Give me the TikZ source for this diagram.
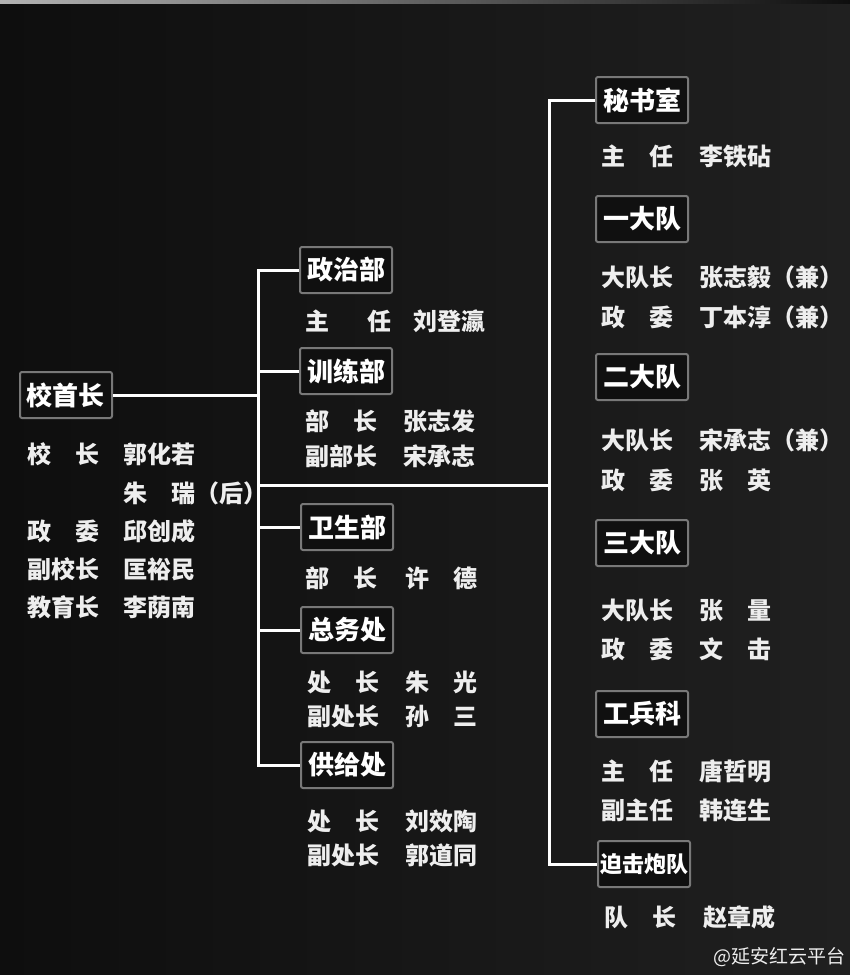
\documentclass[tikz,border=0pt]{standalone}
\usepackage{fontspec}
\newfontfamily\cjk{Noto Sans CJK SC}
\usepackage{tikz}
\usetikzlibrary{positioning}
\definecolor{boardbg}{RGB}{14,14,14}
\definecolor{boardlight}{RGB}{32,32,32}
\definecolor{boxfill}{RGB}{16,16,16}
\definecolor{framegray}{RGB}{120,120,120}
\definecolor{chalk}{RGB}{238,238,238}
\tikzset{
  dept/.style={rectangle,rounded corners=2pt,draw=framegray,line width=2pt,fill=boxfill,
    text=white,font=\cjk\bfseries\fontsize{26}{28}\selectfont,
    minimum width=92pt,minimum height=46pt,inner sep=0pt},
  rolelabel/.style={anchor=west,inner sep=0pt,text=chalk,
    font=\cjk\bfseries\fontsize{24}{26}\selectfont,text height=20pt,text depth=3pt},
  link/.style={draw=white,line width=3pt}
}

\begin{document}
\begin{tikzpicture}[x=1pt,y=-1pt]
\useasboundingbox (0,0) rectangle (850,975);
\fill[left color=boardbg,right color=boardlight] (0,0) rectangle (850,975);
\fill[left color=gray!60,right color=boardbg] (0,0) rectangle (850,3);

% head office
\node[dept] (hq) at (66,395) {校首长};
\node[rolelabel] (hq1a) at (27,455) {校\quad 长};
\node[rolelabel] (hq1b) at (123,455) {郭化若};
\node[rolelabel] (hq2b) at (123,494) {朱\quad 瑞（后）};
\node[rolelabel] (hq3a) at (27,532) {政\quad 委};
\node[rolelabel] (hq3b) at (123,532) {邱创成};
\node[rolelabel] (hq4a) at (27,570) {副校长};
\node[rolelabel] (hq4b) at (123,570) {匡裕民};
\node[rolelabel] (hq5a) at (27,608) {教育长};
\node[rolelabel] (hq5b) at (123,608) {李荫南};

% departments
\node[dept] (zzb) at (346,270) {政治部};
\node[rolelabel] (zzb1a) at (305,322) {主\hspace{1.6em}任};
\node[rolelabel] (zzb1b) at (413,322) {刘登瀛};

\node[dept] (xlb) at (346,371) {训练部};
\node[rolelabel] (xlb1a) at (305,422) {部\quad 长};
\node[rolelabel] (xlb1b) at (403,422) {张志发};
\node[rolelabel] (xlb2a) at (305,457) {副部长};
\node[rolelabel] (xlb2b) at (403,457) {宋承志};

\node[dept] (wsb) at (347,527) {卫生部};
\node[rolelabel] (wsb1a) at (305,579) {部\quad 长};
\node[rolelabel] (wsb1b) at (405,579) {许\quad 德};

\node[dept] (zwc) at (347,630) {总务处};
\node[rolelabel] (zwc1a) at (307,683) {处\quad 长};
\node[rolelabel] (zwc1b) at (405,683) {朱\quad 光};
\node[rolelabel] (zwc2a) at (307,717) {副处长};
\node[rolelabel] (zwc2b) at (405,717) {孙\quad 三};

\node[dept] (gjc) at (347,765) {供给处};
\node[rolelabel] (gjc1a) at (307,822) {处\quad 长};
\node[rolelabel] (gjc1b) at (405,822) {刘效陶};
\node[rolelabel] (gjc2a) at (307,856) {副处长};
\node[rolelabel] (gjc2b) at (405,856) {郭道同};

% units
\node[dept] (msh) at (642,100) {秘书室};
\node[rolelabel] (msh1a) at (601,157) {主\quad 任};
\node[rolelabel] (msh1b) at (699,157) {李铁砧};

\node[dept] (ydd) at (642,219) {一大队};
\node[rolelabel] (ydd1a) at (601,278) {大队长};
\node[rolelabel] (ydd1b) at (699,278) {张志毅（兼）};
\node[rolelabel] (ydd2a) at (601,318) {政\quad 委};
\node[rolelabel] (ydd2b) at (699,318) {丁本淳（兼）};

\node[dept] (edd) at (642,377) {二大队};
\node[rolelabel] (edd1a) at (601,441) {大队长};
\node[rolelabel] (edd1b) at (699,441) {宋承志（兼）};
\node[rolelabel] (edd2a) at (601,481) {政\quad 委};
\node[rolelabel] (edd2b) at (699,481) {张\quad 英};

\node[dept] (sdd) at (642,543) {三大队};
\node[rolelabel] (sdd1a) at (601,611) {大队长};
\node[rolelabel] (sdd1b) at (699,611) {张\quad 量};
\node[rolelabel] (sdd2a) at (601,650) {政\quad 委};
\node[rolelabel] (sdd2b) at (699,650) {文\quad 击};

\node[dept] (gbk) at (642,714) {工兵科};
\node[rolelabel] (gbk1a) at (601,772) {主\quad 任};
\node[rolelabel] (gbk1b) at (699,772) {唐哲明};
\node[rolelabel] (gbk2a) at (601,811) {副主任};
\node[rolelabel] (gbk2b) at (699,811) {韩连生};

\node[dept,font=\cjk\bfseries\fontsize{22}{24}\selectfont] (pjd) at (644,864) {迫击炮队};
\node[rolelabel] (pjd1a) at (604,918) {队\quad 长};
\node[rolelabel] (pjd1b) at (703,918) {赵章成};

\node[anchor=west,inner sep=0pt,text=chalk,font=\cjk\fontsize{19}{21}\selectfont] (mark) at (713,957) {@延安红云平台};

% connectors
\coordinate (lbus) at (258,485);
\coordinate (rbus) at (549,485);
\draw[link] (hq.east) -- (hq.east -| lbus);
\draw[link] (zzb.west) -- (zzb.west -| lbus) |- (gjc.west);
\draw[link] (xlb.west) -- (xlb.west -| lbus);
\draw[link] (wsb.west) -- (wsb.west -| lbus);
\draw[link] (zwc.west) -- (zwc.west -| lbus);
\draw[link] (lbus) -- (rbus);
\draw[link] (msh.west) -- (msh.west -| rbus) |- (pjd.west);
\end{tikzpicture}
\end{document}
